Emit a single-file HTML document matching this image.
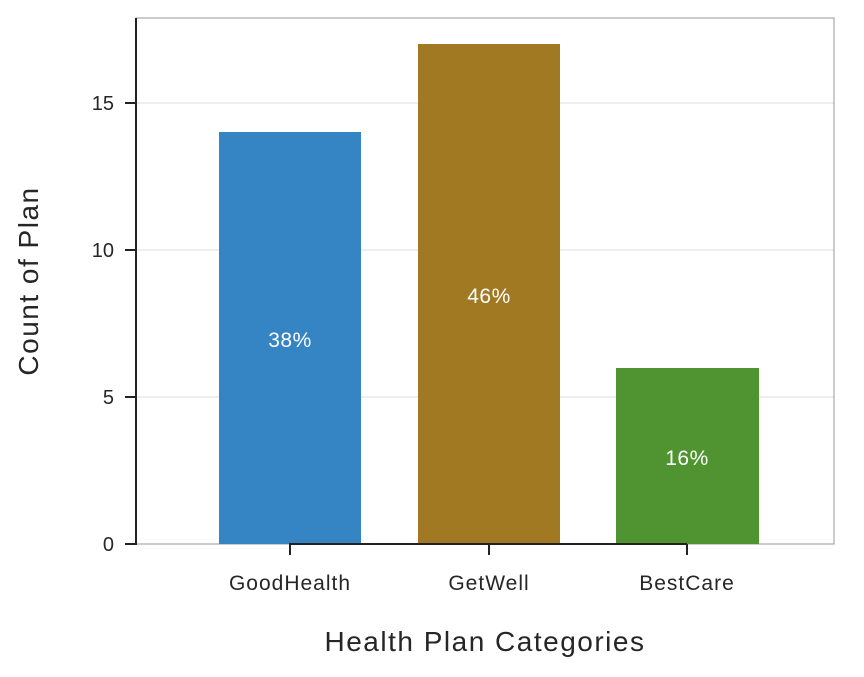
<!DOCTYPE html>
<html><head><style>
body{margin:0;background:#fff;}
svg text{font-family:"Liberation Sans",Arial,sans-serif;}
</style></head><body>
<svg width="864" height="672" viewBox="0 0 864 672" xmlns="http://www.w3.org/2000/svg">
<rect x="0" y="0" width="864" height="672" fill="#fff"/>
<g stroke="#dcdcdc" stroke-width="1">
<line x1="136" y1="397" x2="834" y2="397"/>
<line x1="136" y1="250" x2="834" y2="250"/>
<line x1="136" y1="103" x2="834" y2="103"/>
</g>
<rect x="136" y="18" width="698" height="526" fill="none" stroke="#999" stroke-width="1"/>
<rect x="219" y="132" width="142" height="412" fill="#3584c4"/>
<rect x="418" y="44" width="142" height="500" fill="#a07922"/>
<rect x="616" y="368" width="143" height="176" fill="#4f9430"/>
<line x1="136" y1="18" x2="136" y2="545" stroke="#222" stroke-width="2"/>
<line x1="289" y1="544" x2="687" y2="544" stroke="#222" stroke-width="2"/>
<g stroke="#222" stroke-width="2">
<line x1="125" y1="544" x2="136" y2="544"/>
<line x1="125" y1="397" x2="136" y2="397"/>
<line x1="125" y1="250" x2="136" y2="250"/>
<line x1="125" y1="103" x2="136" y2="103"/>
<line x1="290" y1="544" x2="290" y2="555"/>
<line x1="489" y1="544" x2="489" y2="555"/>
<line x1="687" y1="544" x2="687" y2="555"/>
</g>
<g font-size="20" fill="#262626" text-anchor="end">
<text x="114" y="551">0</text>
<text x="114" y="404">5</text>
<text x="114" y="257">10</text>
<text x="114" y="110">15</text>
</g>
<g font-size="21" fill="#262626" text-anchor="middle" letter-spacing="1">
<text x="290" y="590">GoodHealth</text>
<text x="489" y="590">GetWell</text>
<text x="687" y="590">BestCare</text>
</g>
<g font-size="21" fill="#fff" text-anchor="middle" letter-spacing="0.5">
<text x="290" y="347">38%</text>
<text x="489" y="303">46%</text>
<text x="687" y="465">16%</text>
</g>
<text x="485" y="651" font-size="28" fill="#262626" text-anchor="middle" letter-spacing="1.5">Health Plan Categories</text>
<text transform="translate(38,281) rotate(-90)" font-size="28" fill="#262626" text-anchor="middle" letter-spacing="1.5">Count of Plan</text>
</svg>
</body></html>
